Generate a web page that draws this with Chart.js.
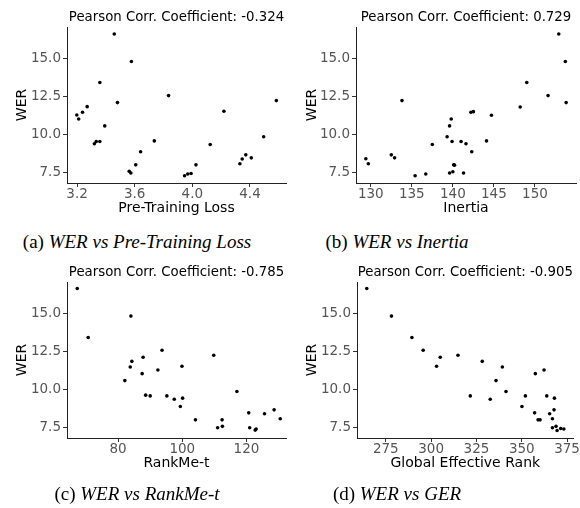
<!DOCTYPE html>
<html lang="en">
<head>
<meta charset="UTF-8">
<title>WER correlations</title>
<script src="https://cdn.jsdelivr.net/npm/chart.js"></script>
<style>
    body { margin: 0; width: 580px; height: 508px; background: #fff; position: relative; overflow: hidden; }
    .panel { position: absolute; }
    .caption {
        position: absolute;
        font-family: "Liberation Serif", "Times New Roman", serif;
        font-size: 19px;
        line-height: 1;
        color: #000;
        white-space: nowrap;
        transform: translateX(-50%);
    }
</style>
</head>
<body>
<div class="panel" style="left:0;top:0"><canvas id="chartA" width="290" height="230"></canvas></div>
<div class="panel" style="left:290px;top:0"><canvas id="chartB" width="290" height="230"></canvas></div>
<div class="panel" style="left:0;top:255px"><canvas id="chartC" width="290" height="230"></canvas></div>
<div class="panel" style="left:290px;top:255px"><canvas id="chartD" width="290" height="230"></canvas></div>

<div class="caption" style="left:137px;top:232px">(a) <i>WER vs Pre-Training Loss</i></div>
<div class="caption" style="left:397px;top:232px">(b) <i>WER vs Inertia</i></div>
<div class="caption" style="left:137px;top:484px">(c) <i>WER vs RankMe-t</i></div>
<div class="caption" style="left:397px;top:484px">(d) <i>WER vs GER</i></div>

<script>
    // values
    const werTicks = [7.5, 10, 12.5, 15];

    const lossA = [3.458, 3.577, 3.358, 3.480, 3.835, 4.583, 4.219, 3.198, 3.211, 3.238, 3.270, 3.392, 3.320, 3.333, 3.358,
                   3.736, 4.124, 4.495, 3.641, 3.607, 3.562, 3.573, 3.946, 3.968, 3.991, 4.025, 4.330, 4.346, 4.371, 4.409];
    const werA = [16.64, 14.82, 13.44, 12.11, 12.57, 12.24, 11.54, 11.29, 11.03, 11.47, 11.84, 10.57, 9.39, 9.54, 9.54,
                  9.58, 9.34, 9.85, 8.86, 8.00, 7.57, 7.46, 7.28, 7.39, 7.43, 8.00, 8.07, 8.38, 8.66, 8.46];
    const lossTicks = [3.2, 3.6, 4.0, 4.4];

    const inertiaB = [152.9, 153.7, 149.0, 153.8, 151.6, 133.8, 148.2, 144.7, 142.2, 142.5, 139.8, 139.6, 139.3, 139.9, 141.0,
                      141.6, 144.1, 137.5, 142.3, 129.4, 129.7, 132.5, 132.9, 140.1, 140.2, 139.6, 140.0, 141.3, 136.7, 135.4];
    const werB = [16.64, 14.82, 13.44, 12.11, 12.57, 12.24, 11.82, 11.27, 11.47, 11.51, 11.03, 10.57, 9.85, 9.54, 9.54,
                  9.39, 9.58, 9.34, 8.86, 8.40, 8.07, 8.66, 8.46, 8.00, 7.98, 7.46, 7.54, 7.46, 7.39, 7.28];
    const inertiaTicks = [130, 135, 140, 145, 150];

    const rankC = [67.3, 70.7, 84.0, 93.7, 87.8, 109.8, 84.3, 83.8, 92.4, 99.9, 87.5, 82.1, 88.6, 90.0, 95.2,
                   97.5, 100.1, 99.4, 117.0, 104.1, 112.4, 111.0, 112.5, 120.7, 125.6, 128.6, 130.5, 121.0, 122.7, 123.0];
    const werC = [16.67, 13.44, 14.85, 12.59, 12.13, 12.26, 11.86, 11.49, 11.29, 11.54, 11.05, 10.59, 9.63, 9.58, 9.58,
                  9.36, 9.43, 8.88, 9.87, 8.00, 8.00, 7.48, 7.57, 8.46, 8.40, 8.66, 8.07, 7.48, 7.32, 7.39];
    const rankTicks = [80, 100, 120];

    const gerD = [264.5, 278.1, 289.4, 295.6, 305.0, 314.8, 303.0, 328.2, 339.3, 357.5, 362.3, 335.8, 341.3, 321.6, 332.6,
                  352.0, 363.8, 368.0, 350.1, 357.1, 365.4, 367.8, 366.9, 359.0, 360.1, 366.9, 368.9, 369.5, 371.5, 373.2];
    const werD = [16.67, 14.85, 13.44, 12.59, 12.13, 12.26, 11.54, 11.86, 11.49, 11.05, 11.29, 10.59, 9.87, 9.58, 9.36,
                  9.58, 9.58, 9.43, 8.88, 8.46, 8.40, 8.66, 8.07, 8.00, 8.00, 7.48, 7.57, 7.30, 7.43, 7.39];
    const gerTicks = [275, 300, 325, 350, 375];

    Chart.defaults.font.family = '"DejaVu Sans", sans-serif';

    // title centred over the plot area, like matplotlib does
    const panelTitle = {
        id: 'panelTitle',
        afterDraw(chart, args, opts) {
            const ca = chart.chartArea;
            const ctx = chart.ctx;
            ctx.save();
            ctx.font = '13.3px "DejaVu Sans"';
            ctx.fillStyle = '#000';
            ctx.textAlign = 'center';
            ctx.textBaseline = 'alphabetic';
            ctx.fillText(opts.text, (ca.left + ca.right) / 2, ca.top - 6);
            ctx.restore();
        }
    };

    function makeScatter(id, xs, ys, o) {
        const axisBits = {
            grid: { display: true, drawOnChartArea: false, drawTicks: true, tickLength: 4, color: '#333', lineWidth: 1 },
            border: { display: true, color: '#222', width: 1 }
        };
        new Chart(document.getElementById(id), {
            type: 'scatter',
            data: {
                datasets: [{
                    data: xs.map((x, i) => ({ x: x, y: ys[i] })),
                    backgroundColor: '#000',
                    borderColor: '#000',
                    pointRadius: 1.8,
                    pointBorderWidth: 0
                }]
            },
            options: {
                responsive: false,
                animation: false,
                events: [],
                layout: { padding: { top: 27, right: o.padRight || 0, left: 0, bottom: 0 } },
                plugins: {
                    legend: { display: false },
                    tooltip: { enabled: false },
                    panelTitle: { text: o.title }
                },
                scales: {
                    x: {
                        type: 'linear',
                        min: o.xMin,
                        max: o.xMax,
                        afterBuildTicks: s => { s.ticks = o.xTicks.map(v => ({ value: v })); },
                        afterFit: s => { s.height = 47; },
                        ticks: { color: '#555', font: { size: 13.5 }, padding: -1, maxRotation: 0, callback: o.xFmt },
                        title: { display: true, text: o.xLabel, color: '#000', font: { size: 14 }, padding: { top: 0, bottom: 13 } },
                        ...axisBits
                    },
                    y: {
                        type: 'linear',
                        min: 6.8,
                        max: 17.1,
                        afterBuildTicks: s => { s.ticks = werTicks.map(v => ({ value: v })); },
                        afterFit: s => { s.width = o.yWidth; },
                        ticks: { color: '#555', font: { size: 13.5 }, padding: 2, callback: v => v.toFixed(1) },
                        title: { display: true, text: 'WER', color: '#000', font: { size: 14 }, padding: { top: 14, bottom: 0 } },
                        ...axisBits
                    }
                }
            },
            plugins: [panelTitle]
        });
    }

    makeScatter('chartA', lossA, werA, {
        title: 'Pearson Corr. Coefficient: -0.324', xLabel: 'Pre-Training Loss',
        xMin: 3.13, xMax: 4.65, xTicks: lossTicks, xFmt: v => v.toFixed(1), yWidth: 67
    });
    makeScatter('chartB', inertiaB, werB, {
        title: 'Pearson Corr. Coefficient: 0.729', xLabel: 'Inertia',
        xMin: 128.2, xMax: 155.0, xTicks: inertiaTicks, xFmt: v => v, yWidth: 66
    });
    makeScatter('chartC', rankC, werC, {
        title: 'Pearson Corr. Coefficient: -0.785', xLabel: 'RankMe-t',
        xMin: 64.1, xMax: 132.3, xTicks: rankTicks, xFmt: v => v, yWidth: 67
    });
    makeScatter('chartD', gerD, werD, {
        title: 'Pearson Corr. Coefficient: -0.905', xLabel: 'Global Effective Rank',
        xMin: 259.1, xMax: 378.6, xTicks: gerTicks, xFmt: v => v, yWidth: 67, padRight: 6.4
    });
</script>
</body>
</html>
